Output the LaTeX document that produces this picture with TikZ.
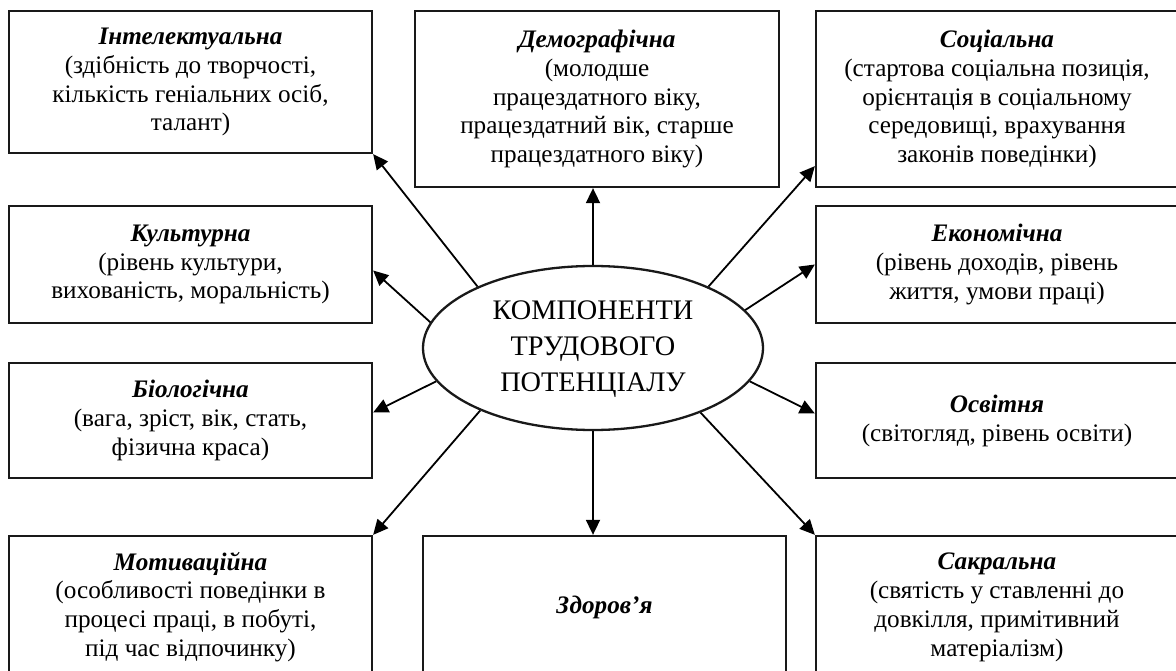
\documentclass[tikz,border=0pt]{standalone}
\usepackage{fontspec}
\setmainfont{Liberation Serif}
\usetikzlibrary{shapes.geometric,arrows.meta,calc}
\tikzset{
  comp/.style={draw=black!90, line width=2.3pt, minimum width=363pt, align=center, inner sep=0pt,
    font=\fontsize{25.2}{28.9}\selectfont},
  arr/.style={line width=1.8pt, -{Triangle[length=15pt,width=14pt]}},
}
\newcommand{\hd}[1]{\textbf{\textit{#1}}}
\begin{document}
\begin{tikzpicture}[x=1pt,y=-1pt]
\useasboundingbox (0,0) rectangle (1176,671);
\fill[white] (0,0) rectangle (1176,671);
\clip (0,0) rectangle (1176,671);
% left column
\node[comp, minimum height=142pt] (int) at (190.5,82) {\hd{Інтелектуальна}\\(здібність до творчості,\\кількість геніальних осіб,\\талант)};
\node[comp, minimum height=117pt] (kult) at (190.5,264.5) {\hd{Культурна}\\(рівень культури,\\вихованість, моральність)};
\node[comp, minimum height=115pt] (bio) at (190.5,420.5) {\hd{Біологічна}\\(вага, зріст, вік, стать,\\фізична краса)};
\node[comp, minimum height=142pt] (mot) at (190.5,607) {\hd{Мотиваційна}\\(особливості поведінки в\\процесі праці, в побуті,\\під час відпочинку)};
% middle column
\node[comp, minimum width=364pt, minimum height=176pt] (dem) at (597,99) {\hd{Демографічна}\\(молодше\\працездатного віку,\\працездатний вік, старше\\працездатного віку)};
\node[comp, minimum height=142pt] (zd) at (604.5,607) {\hd{Здоров’я}};
% right column
\node[comp, minimum width=362pt, minimum height=176pt] (soc) at (997,99) {\hd{Соціальна}\\(стартова соціальна позиція,\\орієнтація в соціальному\\середовищі, врахування\\законів поведінки)};
\node[comp, minimum width=362pt, minimum height=117pt] (eko) at (997,264.5) {\hd{Економічна}\\(рівень доходів, рівень\\життя, умови праці)};
\node[comp, minimum width=362pt, minimum height=115pt] (osv) at (997,420.5) {\hd{Освітня}\\(світогляд, рівень освіти)};
\node[comp, minimum width=362pt, minimum height=142pt] (sak) at (997,607) {\hd{Сакральна}\\(святість у ставленні до\\довкілля, примітивний\\матеріалізм)};
% centre
\node[draw=black!90, line width=2.3pt, ellipse, minimum width=340pt, minimum height=164pt, inner sep=0pt,
  font=\fontsize{28.3}{36}\selectfont] (e) at (593,348)
  {\raisebox{-4pt}{\begin{tabular}{@{}c@{}}КОМПОНЕНТИ\\ТРУДОВОГО\\ПОТЕНЦІАЛУ\end{tabular}}};
% connectors
\draw[arr] (e.152.7) -- (int.south east);
\draw[arr] (e.171) -- ($(kult.east)+(0,6)$);
\draw[arr] (e.north) -- (e.north |- dem.south);
\draw[arr] (e.28) -- ($(soc.south west)+(0,-22)$);
\draw[arr] (e.14.7) -- (eko.west);
\draw[arr] (e.192) -- ($(bio.east)+(0,-8)$);
\draw[arr] (e.209.6) -- (mot.north east);
\draw[arr] (e.south) -- (e.south |- zd.north);
\draw[arr] (e.348) -- ($(osv.west)+(0,-7)$);
\draw[arr] (e.329.8) -- (sak.north west);
\end{tikzpicture}
\end{document}
